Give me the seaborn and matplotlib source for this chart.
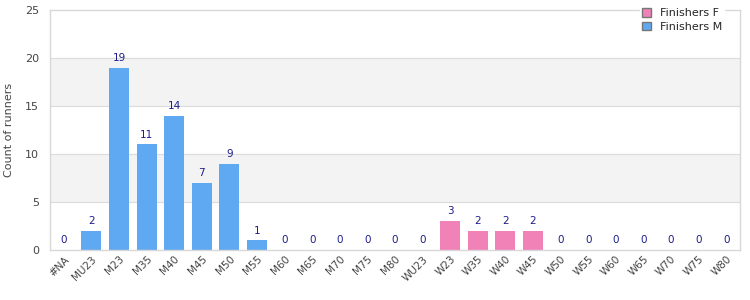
import matplotlib
matplotlib.use("Agg")
import matplotlib.pyplot as plt
import seaborn as sns
import pandas as pd
from matplotlib.patches import Patch

categories = ["#NA", "MU23", "M23", "M35", "M40", "M45", "M50", "M55", "M60", "M65",
              "M70", "M75", "M80", "WU23", "W23", "W35", "W40", "W45", "W50", "W55",
              "W60", "W65", "W70", "W75", "W80"]
finishers_m = [0, 2, 19, 11, 14, 7, 9, 1, 0, 0, 0, 0, 0, 0, 0, 0, 0, 0, 0, 0, 0, 0, 0, 0, 0]
finishers_f = [0, 0, 0, 0, 0, 0, 0, 0, 0, 0, 0, 0, 0, 0, 3, 2, 2, 2, 0, 0, 0, 0, 0, 0, 0]
yticks = [0, 5, 10, 15, 20, 25]

col_m = "#5fa8f2"
col_f = "#f082b8"
lab_col = "#1c1c8c"

sns.set_theme(style="white")
plt.rcParams['font.family'] = ['DejaVu Sans']

df = pd.DataFrame({
    "cat": categories * 2,
    "val": finishers_m + finishers_f,
    "series": ["Finishers M"] * len(categories) + ["Finishers F"] * len(categories),
})

fig = plt.figure(figsize=(7.5, 3), dpi=100)
ax = fig.add_axes([50/750, 50/300, 690/750, 240/300])

# alternating bands
for i in range(len(yticks) - 1):
    if i % 2 == 1:
        ax.axhspan(yticks[i], yticks[i+1], color="#f3f3f3", zorder=0, lw=0)
for y in yticks[1:-1]:
    ax.axhline(y, color="#dddddd", lw=0.9, zorder=0.5)

sns.barplot(data=df, x="cat", y="val", hue="series", dodge=False, order=categories,
            palette={"Finishers M": col_m, "Finishers F": col_f}, width=0.72,
            saturation=1, ax=ax, legend=False, zorder=2, linewidth=0)

for i, (m, f) in enumerate(zip(finishers_m, finishers_f)):
    v = m + f
    ax.text(i, v + 0.5, str(v), ha="center", va="bottom", fontsize=7.5, color=lab_col, zorder=3)

ax.set_ylim(0, 25)
ax.set_xlim(-0.5, len(categories) - 0.5)
ax.set_yticks(yticks)
ax.set_xlabel("")
ax.set_ylabel("Count of runners", fontsize=8, color="#444444", labelpad=8)
ax.tick_params(axis="y", labelsize=8, colors="#444444", length=0, pad=8)
ax.tick_params(axis="x", labelsize=7.5, colors="#444444", length=0, pad=3)
plt.setp(ax.get_xticklabels(), rotation=45, ha="right", rotation_mode="anchor")
for s in ax.spines.values():
    s.set_color("#d8d8d8")
    s.set_linewidth(1)

handles = [Patch(facecolor=col_f, edgecolor="#777777", label="Finishers F"),
           Patch(facecolor=col_m, edgecolor="#777777", label="Finishers M")]
leg = ax.legend(handles=handles, loc="upper right", bbox_to_anchor=(0.985, 1.04),
                fontsize=8, frameon=True, handlelength=0.8, handleheight=0.8,
                handletextpad=0.8, borderpad=0.2, labelspacing=0.3, fancybox=False)
leg.get_frame().set_edgecolor("white")
leg.get_frame().set_facecolor("white")
leg.get_frame().set_alpha(1)
leg.set_zorder(5)

fig.savefig("out.png", dpi=100)
